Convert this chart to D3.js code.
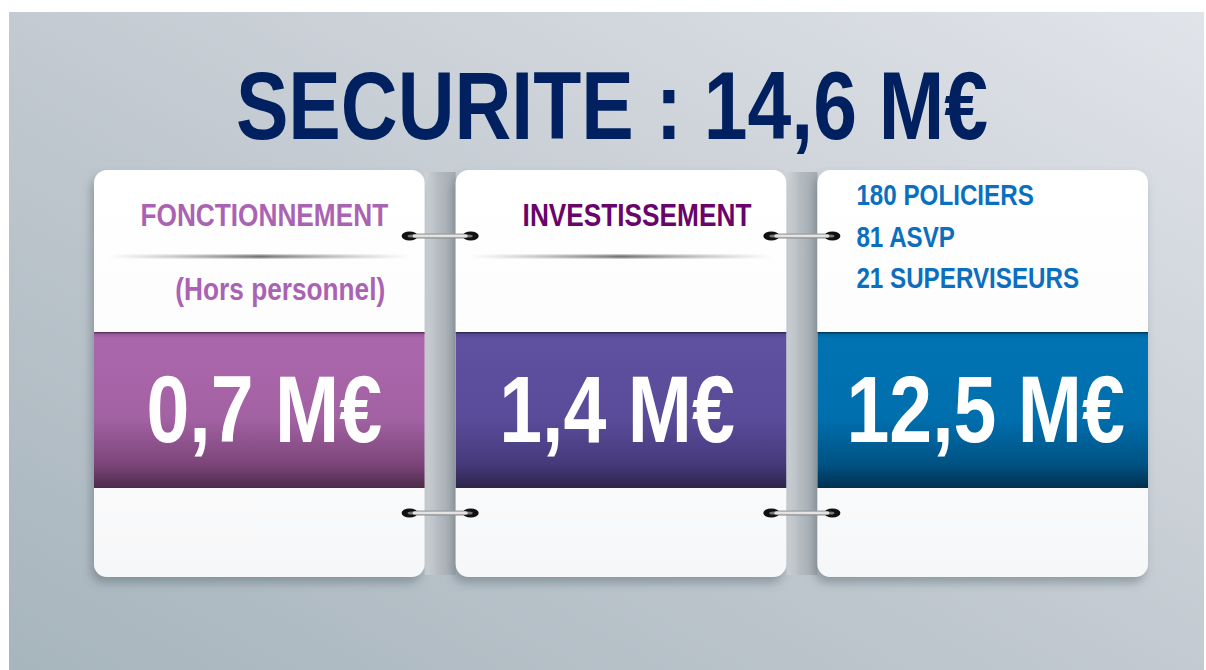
<!DOCTYPE html>
<html>
<head>
<meta charset="utf-8">
<script src="https://cdnjs.cloudflare.com/ajax/libs/d3/7.8.5/d3.min.js"></script>
<style>
  html, body { margin: 0; padding: 0; background: #ffffff; }
  svg { display: block; }
  text { font-family: "Liberation Sans", Arial, sans-serif; font-weight: bold; }
</style>
</head>
<body>
<div id="chart"></div>
<script>
// Data.
var titleText = "SECURITE";
var total = 14.6;
var categories = ["FONCTIONNEMENT", "INVESTISSEMENT", "PERSONNEL"];
var subLabels = ["(Hors personnel)", "", ""];
var amounts = [0.7, 1.4, 12.5];
var staffCounts = [180, 81, 21];
var staffLabels = ["POLICIERS", "ASVP", "SUPERVISEURS"];

var bandColors = [
  ["#8f5391", "#ab67ac", "#a362a4", "#7b4579", "#4c2b4a"],
  ["#4f4287", "#5f50a0", "#5b4c9a", "#45397a", "#2e2549"],
  ["#005e95", "#0073b3", "#006fae", "#005283", "#00304f"]
];
var headColors = ["#aa63b3", "#68046a", "#0b6fc0"];

// Global sizes.
var width = 1206;
var height = 670;
var cardTop = 170, cardBottom = 577;
var bandTop = 332, bandBottom = 488;
var squeeze = 0.82;   // narrow bold look
var valueShift = [5, -4, 3];

var fmt = function(v) { return d3.format(".1f")(v).replace(".", ",") + " M\u20ac"; };

var svg = d3.select("#chart")
  .append("svg")
  .attr("width", width)
  .attr("height", height);

var defs = svg.append("defs");

// Background gradient.
var bg = defs.append("linearGradient").attr("id", "bg")
  .attr("x1", 0).attr("y1", 1).attr("x2", 1).attr("y2", 0);
bg.append("stop").attr("offset", 0).attr("stop-color", "#a7b5bd");
bg.append("stop").attr("offset", 0.5).attr("stop-color", "#c3cad1");
bg.append("stop").attr("offset", 1).attr("stop-color", "#e1e4e9");

// Card paper gradient.
var paper = defs.append("linearGradient").attr("id", "paper")
  .attr("x1", 0).attr("y1", 0).attr("x2", 0).attr("y2", 1);
paper.append("stop").attr("offset", 0).attr("stop-color", "#ffffff");
paper.append("stop").attr("offset", 0.7).attr("stop-color", "#fbfbfc");
paper.append("stop").attr("offset", 1).attr("stop-color", "#f6f7f8");

// Spine strip between cards.
var spine = defs.append("linearGradient").attr("id", "spine");
spine.append("stop").attr("offset", 0).attr("stop-color", "#cfd4d8");
spine.append("stop").attr("offset", 0.45).attr("stop-color", "#b4bbc0");
spine.append("stop").attr("offset", 1).attr("stop-color", "#a3abb1");

// Divider line.
var divider = defs.append("linearGradient").attr("id", "divider");
divider.append("stop").attr("offset", 0).attr("stop-color", "#777").attr("stop-opacity", 0);
divider.append("stop").attr("offset", 0.5).attr("stop-color", "#444").attr("stop-opacity", 0.9);
divider.append("stop").attr("offset", 1).attr("stop-color", "#777").attr("stop-opacity", 0);

// Ring bar.
var ringBar = defs.append("linearGradient").attr("id", "ringbar")
  .attr("x1", 0).attr("y1", 0).attr("x2", 0).attr("y2", 1);
ringBar.append("stop").attr("offset", 0).attr("stop-color", "#9a9a9a");
ringBar.append("stop").attr("offset", 0.5).attr("stop-color", "#ffffff");
ringBar.append("stop").attr("offset", 1).attr("stop-color", "#8a8a8a");

// Band gradients.
bandColors.forEach(function(c, i) {
  var g = defs.append("linearGradient").attr("id", "band" + i)
    .attr("x1", 0).attr("y1", 0).attr("x2", 0).attr("y2", 1);
  [0, 0.04, 0.55, 0.85, 1].forEach(function(o, k) {
    g.append("stop").attr("offset", o).attr("stop-color", c[k]);
  });
});

// Soft shadow under cards.
var shadow = defs.append("filter").attr("id", "shadow")
  .attr("x", -0.1).attr("y", -0.1).attr("width", 1.2).attr("height", 1.25);
shadow.append("feDropShadow")
  .attr("dx", -3).attr("dy", 6).attr("stdDeviation", 5)
  .attr("flood-color", "#55606a").attr("flood-opacity", 0.45);

var blur = defs.append("filter").attr("id", "blur");
blur.append("feGaussianBlur").attr("stdDeviation", 0.8);

// Panel.
svg.append("rect")
  .attr("x", 9).attr("y", 12)
  .attr("width", 1195).attr("height", height - 12)
  .attr("fill", "url(#bg)");

// Title.
svg.append("text")
  .attr("transform", "translate(612,139) scale(" + squeeze + ",1)")
  .attr("text-anchor", "middle")
  .attr("font-size", 96)
  .attr("fill", "#00205f")
  .text(titleText + " : " + fmt(total));

// Card positions.
var x = d3.scaleBand()
  .domain(categories)
  .range([94, 1148])
  .paddingInner(0.086);

var bw = x.bandwidth();

// Spine strips in the gaps.
categories.slice(0, -1).forEach(function(c) {
  svg.append("rect")
    .attr("x", x(c) + bw)
    .attr("y", cardTop + 2)
    .attr("width", x.step() - bw)
    .attr("height", cardBottom - cardTop - 4)
    .attr("fill", "url(#spine)");
});

var cards = svg.selectAll(".card")
  .data(categories)
  .enter()
  .append("g")
  .attr("class", "card")
  .attr("transform", function(d) { return "translate(" + x(d) + ",0)"; });

cards.append("rect")
  .attr("x", 0).attr("y", cardTop)
  .attr("width", bw).attr("height", cardBottom - cardTop)
  .attr("rx", 13).attr("ry", 13)
  .attr("fill", "url(#paper)")
  .attr("filter", "url(#shadow)");

// Divider lines (first two cards).
cards.filter(function(d, i) { return i < 2; })
  .append("rect")
  .attr("x", 14).attr("y", 255)
  .attr("width", bw - 28).attr("height", 3)
  .attr("fill", "url(#divider)")
  .attr("filter", "url(#blur)");

// Colored bands.
cards.append("rect")
  .attr("x", 0).attr("y", bandTop)
  .attr("width", bw).attr("height", bandBottom - bandTop)
  .attr("fill", function(d, i) { return "url(#band" + i + ")"; });

cards.append("rect")
  .attr("x", 0).attr("y", bandTop)
  .attr("width", bw).attr("height", 1.5)
  .attr("fill", "#000").attr("opacity", 0.35);

// Amount values.
cards.append("text")
  .attr("transform", function(d, i) {
    return "translate(" + (bw / 2 + valueShift[i]) + ",442) scale(" + squeeze + ",1)";
  })
  .attr("text-anchor", "middle")
  .attr("font-size", 94)
  .attr("fill", "#ffffff")
  .text(function(d, i) { return fmt(amounts[i]); });

// Header labels.
cards.filter(function(d, i) { return i < 2; })
  .append("text")
  .attr("transform", function(d, i) {
    return "translate(" + (bw / 2 + (i === 0 ? 5 : 16)) + ",226) scale(" + squeeze + ",1)";
  })
  .attr("text-anchor", "middle")
  .attr("font-size", 32)
  .attr("fill", function(d, i) { return headColors[i]; })
  .text(function(d) { return d; });

cards.filter(function(d, i) { return subLabels[i] !== ""; })
  .append("text")
  .attr("transform", "translate(" + (bw / 2 + 21) + ",300) scale(" + squeeze + ",1)")
  .attr("text-anchor", "middle")
  .attr("font-size", 32)
  .attr("fill", headColors[0])
  .text(function(d, i) { return subLabels[categories.indexOf(d)]; });

// Staff list on the third card.
var staffCard = cards.filter(function(d, i) { return i === 2; });
var yStaff = d3.scalePoint()
  .domain(staffLabels)
  .range([205, 288]);

staffCard.selectAll(".staff")
  .data(staffLabels)
  .enter()
  .append("text")
  .attr("class", "staff")
  .attr("transform", function(d) {
    return "translate(39," + yStaff(d) + ") scale(" + squeeze + ",1)";
  })
  .attr("font-size", 29.5)
  .attr("fill", headColors[2])
  .text(function(d, i) { return staffCounts[i] + " " + d; });

// Binder rings.
var ringRows = [236, 513];
categories.slice(0, -1).forEach(function(c) {
  var left = x(c) + bw - 15;
  var right = x(c) + x.step() + 15;
  ringRows.forEach(function(ry) {
    var g = svg.append("g");
    g.append("rect")
      .attr("x", left).attr("y", ry - 2.5)
      .attr("width", right - left).attr("height", 5)
      .attr("rx", 2.5)
      .attr("fill", "url(#ringbar)");
    [left, right].forEach(function(cx, k) {
      g.append("ellipse")
        .attr("cx", cx).attr("cy", ry)
        .attr("rx", 8).attr("ry", 4.5)
        .attr("fill", "#111");
      g.append("ellipse")
        .attr("cx", cx + (k === 0 ? 2 : -2)).attr("cy", ry)
        .attr("rx", 4).attr("ry", 1.5)
        .attr("fill", "#777");
    });
    g.append("rect")
      .attr("x", left + 3).attr("y", ry - 2)
      .attr("width", right - left - 6).attr("height", 4)
      .attr("rx", 2)
      .attr("fill", "url(#ringbar)");
  });
});
</script>
</body>
</html>
